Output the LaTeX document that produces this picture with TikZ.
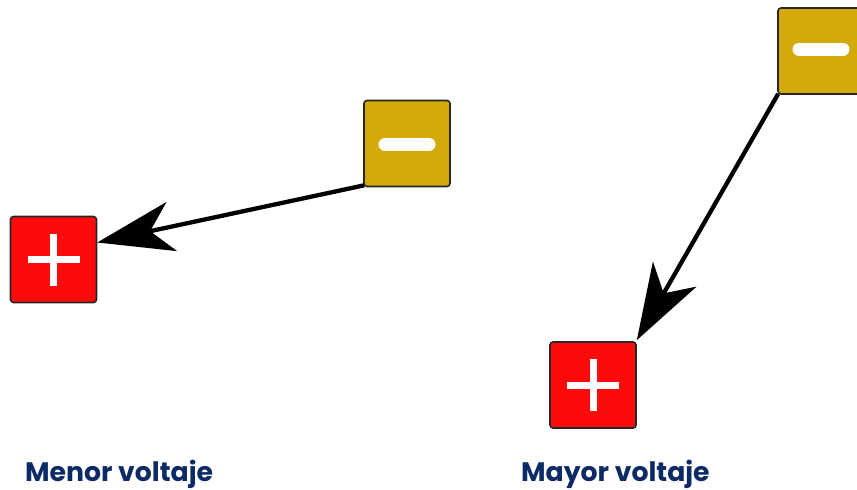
\documentclass[tikz,border=0pt]{standalone}
\usepackage{fontspec}
\setmainfont{Poppins}
\usetikzlibrary{arrows.meta,calc}
\definecolor{minuscol}{HTML}{D4AA0A}
\definecolor{pluscol}{HTML}{FF0A0A}
\definecolor{navy}{HTML}{0B2A66}
\tikzset{
  charge/.style={draw=black!85, line width=1.6pt, rounded corners=3pt, minimum width=86pt, minimum height=86pt, inner sep=0pt},
  negbox/.style={charge, fill=minuscol},
  posbox/.style={charge, fill=pluscol},
  sym/.style={white, line width=7pt},
  flow/.style={line width=4.3pt, -{Stealth[length=76pt, width=50pt, inset=22pt]}},
  lbl/.style={anchor=base west, text=navy, font=\bfseries\fontsize{26.7}{32}\selectfont, inner sep=0pt}
}
\begin{document}
\begin{tikzpicture}[x=1pt,y=-1pt]
\useasboundingbox (0,0) rectangle (857,490);
\clip (0,0) rectangle (857,490);
% left pair
\node[negbox] (minusL) at (407,143.5) {};
\node[posbox] (plusL) at (53.5,259.5) {};
% right pair
\node[negbox] (minusR) at (821,51) {};
\node[posbox] (plusR) at (593,385) {};
% symbols
\draw[white, line width=13pt, line cap=round] ($(minusL.center)+(-22,1)$) -- ($(minusL.center)+(22,1)$);
\draw[white, line width=13pt, line cap=round] ($(minusR.center)+(-22,-2)$) -- ($(minusR.center)+(22,-2)$);
\draw[sym] ($(plusL.center)+(-26,0)$) -- ($(plusL.center)+(26,0)$);
\draw[sym] ($(plusL.center)+(0,-26)$) -- ($(plusL.center)+(0,26)$);
\draw[sym] ($(plusR.center)+(-26,0)$) -- ($(plusR.center)+(26,0)$);
\draw[sym] ($(plusR.center)+(0,-26)$) -- ($(plusR.center)+(0,26)$);
% arrows
\draw[flow] ($(minusL.south west)+(1,-2)$) -- ([yshift=17pt]plusL.east);
\draw[flow] ($(minusR.south west)+(1,-1)$) -- ($(plusR.north east)+(0,-1)$);
% labels
\node[lbl] (t1) at (25,481) {Menor voltaje};
\node[lbl] (t2) at (521,481) {Mayor voltaje};
\end{tikzpicture}
\end{document}
